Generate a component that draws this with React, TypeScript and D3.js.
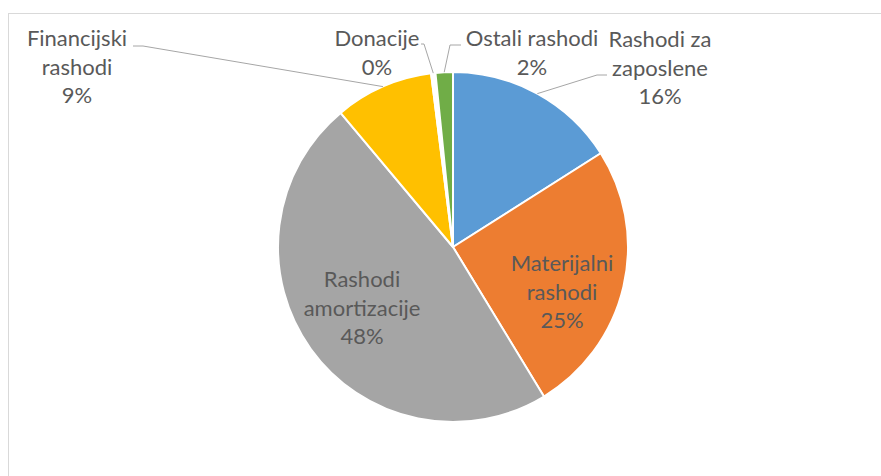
import React from 'react'
import * as d3 from 'd3'

// data (shares in %)
const categories = [
  'Rashodi za zaposlene',
  'Materijalni rashodi',
  'Rashodi amortizacije',
  'Financijski rashodi',
  'Donacije',
  'Ostali rashodi',
]
const shares = [16.0, 25.3, 47.6, 9.1, 0.4, 1.6]
const labelText = [
  ['Rashodi za', 'zaposlene'],
  ['Materijalni', 'rashodi'],
  ['Rashodi', 'amortizacije'],
  ['Financijski', 'rashodi'],
  ['Donacije'],
  ['Ostali rashodi'],
]
// the Donacije sliver shows up white in the picture
const colors = ['#5B9BD5', '#ED7D31', '#A5A5A5', '#FFC000', '#FFFFFF', '#70AD47']

// layout
const width = 881
const height = 476
const cx = 453
const cy = 247
const radius = 175
const lineH = 28.7
// label anchor: centre x, first baseline y; leader: attach point, elbow x (null = no leader)
const labelLayout = [
  { x: 660, y: 47, leader: { x: 607, y: 75, ex: 597 } },
  { x: 562, y: 271, leader: null },
  { x: 362, y: 287, leader: null },
  { x: 77, y: 46, leader: { x: 133, y: 46, ex: 143 } },
  { x: 377, y: 46, leader: { x: 421, y: 44, ex: 424 } },
  { x: 532, y: 46, leader: { x: 461, y: 45, ex: 450 } },
]

const App = () => {
  const pie = d3.pie<number>().sort(null).value(d => d)
  const arcs = pie(shares)
  const arc = d3.arc<d3.PieArcDatum<number>>().innerRadius(0).outerRadius(radius)
  const edgeArc = d3.arc<d3.PieArcDatum<number>>().innerRadius(radius).outerRadius(radius)
  const total = d3.sum(shares)
  const pct = d3.format('.0%')

  return (
    <svg
      width={width}
      height={height}
      style={{ position: 'absolute', left: 0, top: 0, background: '#fff' }}
      fontFamily="Lato, 'Open Sans', sans-serif"
    >
      <rect x={8.5} y={13.5} width={900} height={500} fill="none" stroke="#D9D9D9" strokeWidth={1} />

      <g transform={`translate(${cx},${cy})`}>
        {arcs.map((a, i) => (
          <path key={categories[i]} d={arc(a) || ''} fill={colors[i]} stroke="#fff" strokeWidth={2} strokeLinejoin="round" />
        ))}
      </g>

      {/* leader lines */}
      {arcs.map((a, i) => {
        const l = labelLayout[i].leader
        if (!l) return null
        const [px, py] = edgeArc.centroid(a)
        const pts = [[l.x, l.y], [l.ex, l.y], [cx + px, cy + py]]
        return (
          <path
            key={'lead' + i}
            d={d3.line()(pts as [number, number][]) || ''}
            fill="none"
            stroke="#A6A6A6"
            strokeWidth={1}
          />
        )
      })}

      {/* data labels */}
      {arcs.map((a, i) => {
        const pos = labelLayout[i]
        const lines = [...labelText[i], pct(shares[i] / total)]
        return (
          <text key={'lab' + i} x={pos.x} y={pos.y} textAnchor="middle" fontSize={22} fill="#595959">
            {lines.map((t, j) => (
              <tspan key={j} x={pos.x} y={pos.y + j * lineH}>{t}</tspan>
            ))}
          </text>
        )
      })}
    </svg>
  )
}

export default App
